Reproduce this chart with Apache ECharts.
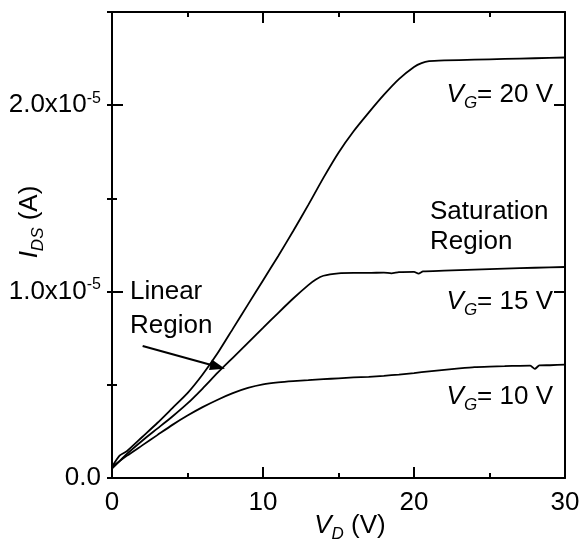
<!DOCTYPE html>
<html>
<head>
<meta charset="utf-8">
<script src="https://cdn.jsdelivr.net/npm/echarts@6.0.0/dist/echarts.min.js"></script>
<style>
  html, body { margin: 0; padding: 0; background: #fff; }
  #chart { width: 580px; height: 541px; }
</style>
</head>
<body>
<div id="chart"></div>
<script>
// drain voltage (V) and drain current (units of 1e-5 A) for each gate voltage
const vd20 = [0, 0.5, 1, 2, 3, 4, 5, 6, 7, 8, 9, 10, 11, 12, 13, 14, 15, 16, 17, 18, 19, 20, 20.5, 21, 22, 24, 26, 28, 30];
const id20 = [0.06, 0.12, 0.145, 0.22, 0.295, 0.375, 0.455, 0.555, 0.67, 0.80, 0.93, 1.06, 1.19, 1.325, 1.465, 1.61, 1.745, 1.86, 1.96, 2.055, 2.14, 2.205, 2.226, 2.236, 2.24, 2.244, 2.248, 2.252, 2.256];

const vd15 = [0, 1, 2, 3, 4, 5, 6, 7, 8, 9, 10, 11, 12, 13, 13.5, 14, 15, 16, 17, 18, 18.5, 19, 20, 20.3, 20.6, 22, 24, 26, 28, 30];
const id15 = [0.05, 0.13, 0.20, 0.265, 0.33, 0.40, 0.48, 0.565, 0.645, 0.725, 0.805, 0.885, 0.963, 1.035, 1.065, 1.085, 1.098, 1.10, 1.10, 1.102, 1.098, 1.104, 1.106, 1.096, 1.108, 1.112, 1.118, 1.123, 1.128, 1.132];

const vd10 = [0, 1, 2, 3, 4, 5, 6, 7, 8, 9, 10, 11, 12, 13, 14, 15, 16, 17, 18, 19, 20, 21, 22, 23, 24, 25, 26, 27, 27.7, 28, 28.3, 29, 30];
const id10 = [0.06, 0.12, 0.175, 0.23, 0.285, 0.335, 0.38, 0.42, 0.455, 0.483, 0.502, 0.513, 0.52, 0.525, 0.53, 0.535, 0.54, 0.543, 0.548, 0.555, 0.563, 0.572, 0.58, 0.588, 0.595, 0.598, 0.6, 0.602, 0.603, 0.585, 0.604, 0.605, 0.608];

const xTicks = [0, 10, 20, 30];
const yTicks = [0, 1e-5, 2e-5];

// "Linear Region" arrow, from text to curve (V, A)
const arrowFrom = [2.03, 0.708e-5];
const arrowTo = [7.0, 0.597e-5];

const FONT = '"Liberation Sans", Arial, sans-serif';
const pair = (xs, ys) => xs.map((x, i) => [x, ys[i] * 1e-5]);

const chart = echarts.init(document.getElementById('chart'));

const baseX = {
  type: 'value', min: 0, max: 30, interval: 10,
  axisLine: { show: true, onZero: false, lineStyle: { color: '#000', width: 2 } },
  axisTick: { show: true, inside: true, length: 11, lineStyle: { color: '#000', width: 2 } },
  minorTick: { show: true, splitNumber: 2, length: 5, lineStyle: { color: '#000', width: 2 } },
  splitLine: { show: false }
};
const baseY = {
  type: 'value', min: 0, max: 2.5e-5,
  axisLine: { show: true, onZero: false, lineStyle: { color: '#000', width: 2 } },
  axisTick: { show: true, inside: true, length: 11, lineStyle: { color: '#000', width: 2 } },
  splitLine: { show: false }
};

const richSub = {
  i: { fontFamily: FONT, fontSize: 26, fontStyle: 'italic', color: '#000' },
  sub: { fontFamily: FONT, fontSize: 17, fontStyle: 'italic', color: '#000', padding: [16, 0, 0, 0] },
  n: { fontFamily: FONT, fontSize: 26, color: '#000' }
};

const curve = (name, data) => ({
  name, type: 'line', data, showSymbol: false, smooth: 0.2,
  lineStyle: { color: '#000', width: 1.8 }
});

const option = {
  backgroundColor: '#fff',
  animation: false,
  grid: { left: 112, right: 15, top: 12, bottom: 63, outerBoundsMode: 'none' },
  xAxis: [
    Object.assign({}, baseX, {
      position: 'bottom',
      axisLabel: {
        show: true, margin: 12, color: '#000', fontFamily: FONT, fontSize: 26,
        formatter: v => xTicks.includes(Math.round(v)) ? String(Math.round(v)) : ''
      }
    }),
    Object.assign({}, baseX, { position: 'top', axisLabel: { show: false } })
  ],
  yAxis: [
    Object.assign({}, baseY, {
      position: 'left', interval: 1e-5,
      axisLabel: {
        show: true, margin: 11, showMaxLabel: false,
        formatter: v => {
          const k = Math.round(v / 1e-5 * 10) / 10;
          if (!yTicks.some(t => Math.abs(t - v) < 1e-9)) return '';
          return k === 0 ? '{n|0.0}' : '{n|' + k.toFixed(1) + 'x10}{sup|-5}';
        },
        rich: {
          n: { fontFamily: FONT, fontSize: 26, color: '#000' },
          sup: { fontFamily: FONT, fontSize: 16, color: '#000', padding: [0, 0, 14, 0] }
        }
      }
    }),
    Object.assign({}, baseY, {
      position: 'left', interval: 0.5e-5, axisLine: { show: false },
      axisTick: { show: true, inside: true, length: 5, lineStyle: { color: '#000', width: 2 } },
      axisLabel: { show: false }
    }),
    Object.assign({}, baseY, { position: 'right', interval: 1e-5, axisLabel: { show: false } }),
    Object.assign({}, baseY, {
      position: 'right', interval: 0.5e-5, axisLine: { show: false },
      axisTick: { show: true, inside: true, length: 5, lineStyle: { color: '#000', width: 2 } },
      axisLabel: { show: false }
    })
  ],
  series: [
    Object.assign(curve('VG=20', pair(vd20, id20)), {
      markLine: {
        silent: true, symbol: ['none', 'triangle'], symbolSize: [11, 15],
        label: { show: false },
        lineStyle: { color: '#000', width: 2, type: 'solid' },
        data: [[{ coord: arrowFrom }, { coord: arrowTo }]]
      }
    }),
    curve('VG=15', pair(vd15, id15)),
    curve('VG=10', pair(vd10, id10))
  ],
  graphic: [
    { type: 'text', x: 553, y: 95, style: { text: '{i|V}{sub|G}{n|= 20 V}', rich: richSub, align: 'right', verticalAlign: 'middle' } },
    { type: 'text', x: 553, y: 302, style: { text: '{i|V}{sub|G}{n|= 15 V}', rich: richSub, align: 'right', verticalAlign: 'middle' } },
    { type: 'text', x: 553, y: 397, style: { text: '{i|V}{sub|G}{n|= 10 V}', rich: richSub, align: 'right', verticalAlign: 'middle' } },
    { type: 'text', x: 430, y: 197, style: { text: 'Saturation\nRegion', font: '26px ' + FONT, lineHeight: 30, fill: '#000', align: 'left', verticalAlign: 'top' } },
    { type: 'text', x: 130, y: 275, style: { text: 'Linear\nRegion', font: '26px ' + FONT, lineHeight: 34, fill: '#000', align: 'left', verticalAlign: 'top' } },
    { type: 'text', x: 350, y: 526, style: { text: '{i|V}{sub|D}{n| (V)}', rich: richSub, align: 'center', verticalAlign: 'middle' } },
    { type: 'text', x: 30, y: 222, rotation: Math.PI / 2, style: { text: '{i|I}{sub|DS}{n| (A)}', rich: richSub, align: 'center', verticalAlign: 'middle' } }
  ]
};

chart.setOption(option);
</script>
</body>
</html>
